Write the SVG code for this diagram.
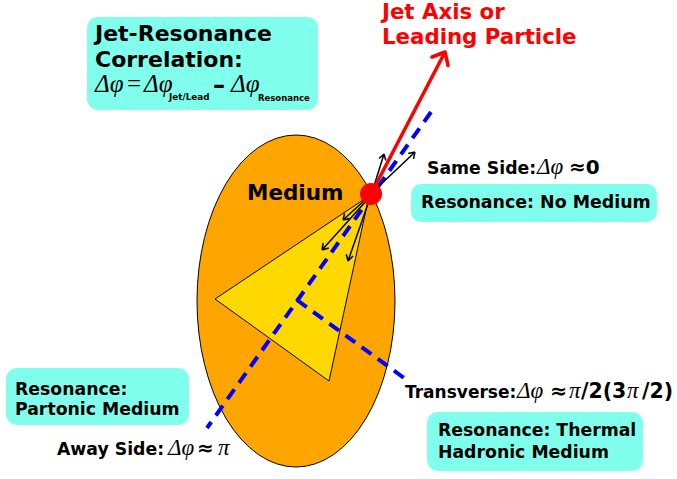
<svg xmlns="http://www.w3.org/2000/svg" width="677" height="479" viewBox="0 0 677 479">
<defs>
<style>
.box{fill:#80ffec;stroke:none}
.b{font-family:"DejaVu Sans",sans-serif;font-weight:bold;fill:#000}
.m{font-family:"Liberation Serif","DejaVu Serif",serif;font-style:italic;font-weight:normal;fill:#000}
.blue{stroke:#0000ff;stroke-width:4;stroke-dasharray:12 8;fill:none}
.arr{stroke:#000;stroke-width:1.5;fill:none}
</style>
</defs>
<rect width="677" height="479" fill="#fff"/>
<g id="medium">
<ellipse cx="296" cy="301" rx="99" ry="166" fill="#ffa500" stroke="#000" stroke-width="1"/>
<text class="b" x="247" y="200" font-size="21.5">Medium</text>
</g>
<g id="cone">
<polygon points="369,196 215,299 329,381" fill="#ffd800" stroke="#000" stroke-width="1"/>
</g>
<g id="connectors">
<line class="blue" x1="431" y1="112" x2="207" y2="428"/>
<line class="blue" x1="297" y1="300" x2="404" y2="378"/>
<g class="arr">
<path d="M366,199 L343,220 M343,220 l1.5,-6.5 M343,220 l6.5,-1.5"/>
<path d="M367,200 L322,250 M322,250 l1.2,-7 M322,250 l6.8,-2"/>
<path d="M369,201 L348,261 M348,261 l-1.7,-6.8 M348,261 l5,-5"/>
<path d="M374,186 L384,154 M384,154 l-5,4.5 M384,154 l1.8,6.5"/>
<path d="M377,188 L415,152 M415,152 l-6.8,1.5 M415,152 l-1.5,6.8"/>
</g>
<path d="M371,194 L445,52 M445,52 l-13,5 M445,52 l3,13.5" stroke="#ff0000" stroke-width="3.5" fill="none" stroke-linecap="round" stroke-linejoin="round"/>
</g>
<g id="leading-particle">
<circle cx="371" cy="194" r="11" fill="#ff0000"/>
</g>
<g id="jet-label">
<text class="b" font-size="21.3" style="fill:#ff0000"><tspan x="382" y="19">Jet Axis or</tspan><tspan x="382" y="44">Leading Particle</tspan></text>
</g>
<g id="correlation">
<rect class="box" x="87" y="17" width="231" height="93" rx="11"/>
<text class="b" font-size="22"><tspan x="95" y="41">Jet-Resonance</tspan><tspan x="95" y="67">Correlation:</tspan></text>
<text y="92"><tspan class="m" x="95" font-size="25">Δφ</tspan><tspan x="127" font-size="25" font-family="Liberation Serif,serif">=</tspan><tspan class="m" x="144" font-size="25">Δφ</tspan><tspan class="b" x="169" y="100" font-size="8.8">Jet/Lead</tspan><tspan class="b" x="213" y="93" font-size="24">–</tspan><tspan class="m" x="231" y="92" font-size="25">Δφ</tspan><tspan class="b" x="258" y="101" font-size="8.5">Resonance</tspan></text>
</g>
<g id="same-side">
<text y="174"><tspan class="b" x="427" font-size="17.3">Same Side:</tspan><tspan class="m" x="537" font-size="23">Δφ</tspan><tspan class="b" x="569" font-size="20">≈0</tspan></text>
</g>
<g id="no-medium">
<rect class="box" x="411" y="184" width="246" height="38" rx="10"/>
<text class="b" x="421" y="208" font-size="17.4">Resonance: No Medium</text>
</g>
<g id="transverse">
<text y="398"><tspan class="b" x="405" font-size="17">Transverse:</tspan><tspan class="m" x="517" font-size="23">Δφ</tspan><tspan class="b" x="550" font-size="20.5">≈</tspan><tspan class="m" x="569" font-size="23">π</tspan><tspan class="b" x="581" font-size="20.5">/2(3</tspan><tspan class="m" x="627" font-size="23">π</tspan><tspan class="b" x="642" font-size="20.5">/2)</tspan></text>
</g>
<g id="thermal">
<rect class="box" x="427" y="412" width="216" height="59" rx="11"/>
<text class="b" font-size="17.3"><tspan x="438" y="436">Resonance: Thermal</tspan><tspan x="438" y="458">Hadronic Medium</tspan></text>
</g>
<g id="partonic">
<rect class="box" x="6" y="368" width="183" height="57" rx="11"/>
<text class="b" font-size="17.3"><tspan x="15" y="395">Resonance:</tspan><tspan x="15" y="415">Partonic Medium</tspan></text>
</g>
<g id="away-side">
<text y="455"><tspan class="b" x="57" font-size="17.3">Away Side:</tspan><tspan class="m" x="168" font-size="23">Δφ</tspan><tspan class="b" x="197" font-size="20">≈</tspan><tspan class="m" x="218" font-size="23">π</tspan></text>
</g>
</svg>
